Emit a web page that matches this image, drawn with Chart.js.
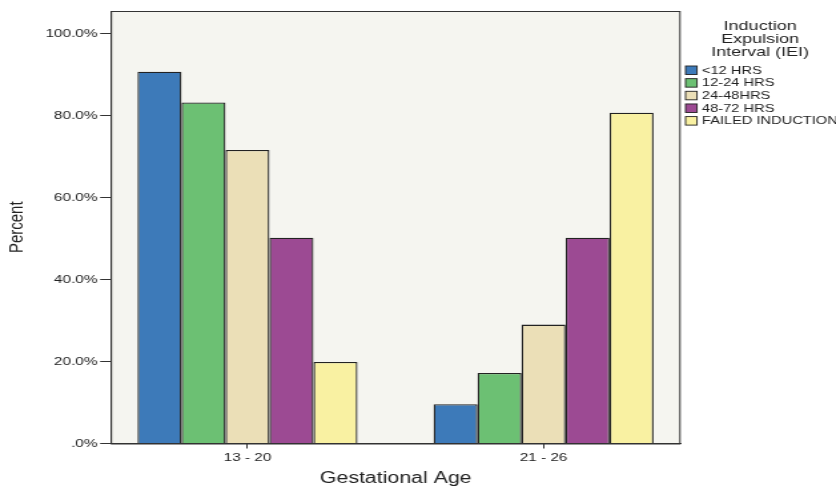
<!DOCTYPE html>
<html>
<head>
<meta charset="utf-8">
<script src="https://cdn.jsdelivr.net/npm/chart.js@4/dist/chart.umd.min.js"></script>
<style>
  html, body { margin: 0; padding: 0; background: #fff; overflow: hidden; }
  /* the reference text looks stretched sideways, so draw narrow and stretch */
  #wrap { width: 628px; height: 488px; transform: scaleX(1.3312); transform-origin: 0 0; }
</style>
</head>
<body>
<div id="wrap"><canvas id="chart" width="628" height="488"></canvas></div>
<script>
// data
const ageGroups = ['13 - 20', '21 - 26'];
const intervalLabels = ['<12 HRS', '12-24 HRS', '24-48HRS', '48-72 HRS', 'FAILED INDUCTION'];
const under12 = [90.7, 9.6];
const from12to24 = [83.2, 17.2];
const from24to48 = [71.6, 29.0];
const from48to72 = [50.2, 50.2];
const failedInduction = [19.9, 80.7];
const yTicks = [0, 20, 40, 60, 80, 100];
const legendTitle = ['Induction', 'Expulsion', 'Interval (IEI)'];

const colors = ['#3D7AB9', '#6CC073', '#EBDFB7', '#9C4A93', '#F9F1A2'];
const FONT = '"Liberation Sans", Arial, sans-serif';

const series = [under12, from12to24, from24to48, from48to72, failedInduction];

const plotBg = {
  id: 'plotBg',
  beforeDraw(chart) {
    const { ctx, chartArea: a } = chart;
    ctx.save();
    ctx.fillStyle = '#F5F5F0';
    ctx.fillRect(a.left, a.top, a.right - a.left, a.bottom - a.top);
    ctx.restore();
  },
  afterDatasetsDraw(chart) {
    const { ctx, chartArea: a } = chart;
    ctx.save();
    ctx.strokeStyle = '#333';
    ctx.lineWidth = 1;
    ctx.strokeRect(a.left + 0.5, a.top + 0.5, a.right - a.left - 1, a.bottom - a.top);
    ctx.restore();
  }
};

// legend with a three line title
const sideLegend = {
  id: 'sideLegend',
  afterDraw(chart) {
    const ctx = chart.ctx;
    ctx.save();
    ctx.fillStyle = '#222';
    ctx.textAlign = 'center';
    ctx.textBaseline = 'middle';
    ctx.font = '13.5px ' + FONT;
    legendTitle.forEach((t, i) => ctx.fillText(t, 571, 26.5 + i * 12.75));
    ctx.textAlign = 'left';
    ctx.font = '11px ' + FONT;
    chart.data.datasets.forEach((ds, i) => {
      const y = 66 + i * 12.65;
      ctx.fillStyle = ds.backgroundColor;
      ctx.fillRect(515, y, 8.6, 8.5);
      ctx.strokeStyle = '#222';
      ctx.lineWidth = 0.9;
      ctx.strokeRect(515, y, 8.6, 8.5);
      ctx.fillStyle = '#222';
      ctx.fillText(ds.label, 527.3, y + 4.8);
    });
    ctx.restore();
  }
};

new Chart(document.getElementById('chart'), {
  type: 'bar',
  data: {
    datasets: series.map((vals, i) => ({
      label: intervalLabels[i],
      data: vals.map((v, j) => ({ x: j, y: v })),
      backgroundColor: colors[i],
      borderColor: '#222',
      borderWidth: 1.3,
      categoryPercentage: 0.743,
      barPercentage: 1
    }))
  },
  options: {
    responsive: false,
    animation: false,
    devicePixelRatio: 1,
    layout: { padding: { top: 11, right: 116.7, left: 0, bottom: 0 } },
    plugins: { legend: { display: false }, tooltip: { enabled: false } },
    scales: {
      x: {
        type: 'linear',
        offset: false,
        min: -0.4618,
        max: 1.4631,
        afterBuildTicks: (s) => { s.ticks = ageGroups.map((_, i) => ({ value: i })); },
        afterFit: (s) => { s.height = 44.5; },
        grid: { offset: false, drawOnChartArea: false, tickLength: 5, color: '#333' },
        border: { color: '#333' },
        ticks: {
          padding: 2, maxRotation: 0, autoSkip: false,
          color: '#222', font: { family: FONT, size: 11.5 },
          callback: (v) => ageGroups[v]
        },
        title: {
          display: true, text: 'Gestational Age', color: '#222',
          font: { family: FONT, size: 16 }, padding: { top: 6, bottom: 0 }
        }
      },
      y: {
        min: 0,
        max: 105.5,
        afterBuildTicks: (s) => { s.ticks = yTicks.map(v => ({ value: v })); },
        afterFit: (s) => { s.width = 83.2; },
        grid: { drawOnChartArea: false, tickLength: 8, color: '#333' },
        border: { color: '#333' },
        ticks: {
          padding: 2, color: '#222', font: { family: FONT, size: 11.5 },
          callback: (v) => v === 0 ? '.0%' : v.toFixed(1) + '%'
        },
        title: {
          display: true, text: 'Percent', color: '#222',
          font: { family: FONT, size: 15 }, padding: { top: 4, bottom: 0 }
        }
      }
    }
  },
  plugins: [plotBg, sideLegend]
});
</script>
</body>
</html>
